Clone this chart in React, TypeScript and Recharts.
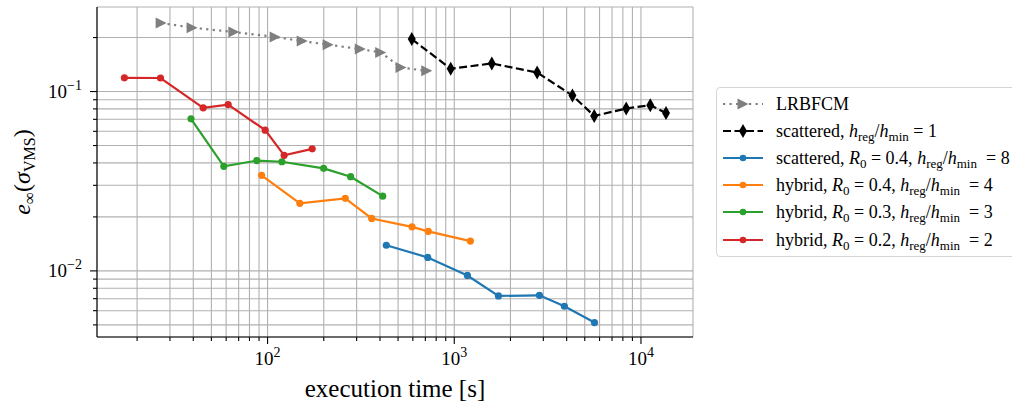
import React from "react";
import { CartesianGrid, Line, LineChart, XAxis, YAxis } from "recharts";

const SERIF = '"Liberation Serif", "DejaVu Serif", serif';

// execution time [s] / error per method
const lrbfcmTime = [26.9, 39.4, 66, 109.8, 153.3, 211, 313.7, 403.6, 518.5, 712];
const lrbfcmErr = [0.241, 0.227, 0.2147, 0.2014, 0.1912, 0.1824, 0.1725, 0.1652, 0.136, 0.1304];

const scatteredTime = [592, 957, 1589, 2780, 4295, 5618, 8337, 11220, 13620];
const scatteredErr = [0.1962, 0.1339, 0.1434, 0.1277, 0.095, 0.0731, 0.0804, 0.0839, 0.076];

const scattered8Time = [432.5, 721, 1176, 1724, 2858, 3890, 5637];
const scattered8Err = [0.0139, 0.01189, 0.00943, 0.00725, 0.00731, 0.00635, 0.00515];

const hybrid4Time = [92.9, 148.9, 260.7, 361, 594, 726, 1220];
const hybrid4Err = [0.0341, 0.0238, 0.0254, 0.0196, 0.0176, 0.0166, 0.01466];

const hybrid3Time = [38.9, 58.3, 87.6, 119.3, 199.6, 278.6, 413.7];
const hybrid3Err = [0.0704, 0.0383, 0.0412, 0.0406, 0.0373, 0.0335, 0.0261];

const hybrid2Time = [17.1, 26.7, 45.2, 61.5, 97.1, 122.7, 173.4];
const hybrid2Err = [0.1193, 0.119, 0.0811, 0.0846, 0.0609, 0.0441, 0.0479];

const xTicks = [
  20, 30, 40, 50, 60, 70, 80, 90, 100, 200, 300, 400, 500, 600, 700, 800, 900, 1000, 2000, 3000,
  4000, 5000, 6000, 7000, 8000, 9000, 10000,
];
const yTicks = [
  0.005, 0.006, 0.007, 0.008, 0.009, 0.01, 0.02, 0.03, 0.04, 0.05, 0.06, 0.07, 0.08, 0.09, 0.1, 0.2,
];

const zip = (xs: number[], ys: number[]) => xs.map((x, i) => ({ x, y: ys[i] }));

const isDecade = (v: number) => Math.abs(Math.log10(v) - Math.round(Math.log10(v))) < 1e-6;
const expOf = (v: number) => {
  const e = Math.round(Math.log10(v));
  return e < 0 ? "\u2212" + Math.abs(e) : String(e);
};

function XTick(props: any) {
  const { x, y, payload } = props;
  const major = isDecade(payload.value);
  return (
    <g>
      <line x1={x} x2={x} y1={y} y2={y + (major ? 7 : 4)} stroke="#000" strokeWidth={1.1} />
      {major && (
        <text x={x} y={y + 28} textAnchor="middle" fontFamily={SERIF} fontSize={19} fill="#000">
          10
          <tspan dy={-8} fontSize={14}>
            {expOf(payload.value)}
          </tspan>
        </text>
      )}
    </g>
  );
}

function YTick(props: any) {
  const { x, y, payload } = props;
  const major = isDecade(payload.value);
  return (
    <g>
      <line x1={x} x2={x - (major ? 7 : 4)} y1={y} y2={y} stroke="#000" strokeWidth={1.1} />
      {major && (
        <text x={x - 15} y={y + 6.5} textAnchor="end" fontFamily={SERIF} fontSize={19} fill="#000">
          10
          <tspan dy={-8} fontSize={14}>
            {expOf(payload.value)}
          </tspan>
        </text>
      )}
    </g>
  );
}

function TriangleDot(props: any) {
  const { cx, cy } = props;
  if (cx == null || cy == null) return <g />;
  const r = 5.5;
  return <path d={`M${cx + r},${cy} L${cx - r},${cy - r} L${cx - r},${cy + r} Z`} fill="#7f7f7f" />;
}

function DiamondDot(props: any) {
  const { cx, cy } = props;
  if (cx == null || cy == null) return <g />;
  return <path d={`M${cx},${cy - 7} L${cx + 4},${cy} L${cx},${cy + 7} L${cx - 4},${cy} Z`} fill="#000" />;
}

const Sub = ({ children }: { children: React.ReactNode }) => (
  <sub style={{ fontSize: 13, verticalAlign: -4, lineHeight: 0 }}>{children}</sub>
);
const H = () => (
  <>
    <i>h</i>
    <Sub>reg</Sub>/<i>h</i>
    <Sub>min</Sub>
  </>
);
const R0 = () => (
  <>
    <i>R</i>
    <Sub>0</Sub>
  </>
);

type LegendRow = { color: string; dash?: string; marker: "tri" | "diamond" | "dot"; label: React.ReactNode };

const legendRows: LegendRow[] = [
  { color: "#7f7f7f", dash: "2.2 4.3", marker: "tri", label: <>LRBFCM</> },
  { color: "#000", dash: "8 3.5", marker: "diamond", label: <>scattered, <H /> = 1</> },
  { color: "#1f77b4", marker: "dot", label: <>scattered, <R0 /> = 0.4, <H /> &nbsp;= 8</> },
  { color: "#ff7f0e", marker: "dot", label: <>hybrid, <R0 /> = 0.4, <H /> &nbsp;= 4</> },
  { color: "#2ca02c", marker: "dot", label: <>hybrid, <R0 /> = 0.3, <H /> &nbsp;= 3</> },
  { color: "#d62728", marker: "dot", label: <>hybrid, <R0 /> = 0.2, <H /> &nbsp;= 2</> },
];

function Handle({ row }: { row: LegendRow }) {
  const cx = 20;
  const cy = 10;
  return (
    <svg width={40} height={20} style={{ flex: "none" }}>
      <line x1={0} x2={40} y1={cy} y2={cy} stroke={row.color} strokeWidth={2.2} strokeDasharray={row.dash} />
      {row.marker === "tri" && <TriangleDot cx={cx} cy={cy} />}
      {row.marker === "diamond" && <DiamondDot cx={cx} cy={cy} />}
      {row.marker === "dot" && <circle cx={cx} cy={cy} r={3.3} fill={row.color} />}
    </svg>
  );
}

export default function App() {
  return (
    <div
      style={{
        position: "absolute",
        left: 0,
        top: 0,
        width: 1012,
        height: 405,
        overflow: "hidden",
        background: "#fff",
      }}
    >
      <LineChart width={1012} height={405} margin={{ top: 7, right: 319, bottom: 8, left: 7 }}>
        <CartesianGrid stroke="#b0b0b0" strokeWidth={1.1} />
        <XAxis
          dataKey="x"
          type="number"
          scale="log"
          domain={[12.2, 19000]}
          allowDataOverflow
          ticks={xTicks}
          interval={0}
          tick={<XTick />}
          tickSize={0}
          tickMargin={0}
          tickLine={false}
          axisLine={{ stroke: "#000", strokeWidth: 1.1 }}
          height={60}
          label={(p: any) => {
            const vb = p.viewBox || {};
            const cx = (vb.x ?? 97) + (vb.width ?? 596) / 2;
            return (
              <text x={cx} y={397} textAnchor="middle" fontFamily={SERIF} fontSize={25} fill="#000">
                execution time [s]
              </text>
            );
          }}
        />
        <YAxis
          dataKey="y"
          type="number"
          scale="log"
          domain={[0.00428, 0.296]}
          allowDataOverflow
          ticks={yTicks}
          interval={0}
          tick={<YTick />}
          tickSize={0}
          tickMargin={0}
          tickLine={false}
          axisLine={{ stroke: "#000", strokeWidth: 1.1 }}
          width={90}
          label={(p: any) => {
            const vb = p.viewBox || {};
            const cy = (vb.y ?? 7) + (vb.height ?? 330) / 2;
            return (
              <text
                x={30}
                y={cy}
                transform={`rotate(-90, 30, ${cy})`}
                textAnchor="middle"
                fontFamily={SERIF}
                fontSize={24}
                fill="#000"
              >
                <tspan fontStyle="italic">e</tspan>
                <tspan dy={5} fontSize={17}>
                  ∞
                </tspan>
                <tspan dy={-5}>(</tspan>
                <tspan fontStyle="italic">σ</tspan>
                <tspan dy={5} fontSize={16}>
                  VMS
                </tspan>
                <tspan dy={-5}>)</tspan>
              </text>
            );
          }}
        />
        <XAxis
          xAxisId="top"
          orientation="top"
          type="number"
          domain={[0, 1]}
          height={0}
          tick={false}
          tickLine={false}
          axisLine={{ stroke: "#000", strokeWidth: 1.1 }}
        />
        <YAxis
          yAxisId="right"
          orientation="right"
          type="number"
          domain={[0, 1]}
          width={0}
          tick={false}
          tickLine={false}
          axisLine={{ stroke: "#000", strokeWidth: 1.1 }}
        />
        <Line
          data={zip(lrbfcmTime, lrbfcmErr)}
          dataKey="y"
          stroke="#7f7f7f"
          strokeWidth={2.2}
          strokeDasharray="2.2 4.3"
          dot={<TriangleDot />}
          activeDot={false}
          isAnimationActive={false}
        />
        <Line
          data={zip(scatteredTime, scatteredErr)}
          dataKey="y"
          stroke="#000"
          strokeWidth={2.2}
          strokeDasharray="8 3.5"
          dot={<DiamondDot />}
          activeDot={false}
          isAnimationActive={false}
        />
        <Line
          data={zip(scattered8Time, scattered8Err)}
          dataKey="y"
          stroke="#1f77b4"
          strokeWidth={2.2}
          dot={{ r: 3.6, fill: "#1f77b4", stroke: "none" }}
          activeDot={false}
          isAnimationActive={false}
        />
        <Line
          data={zip(hybrid4Time, hybrid4Err)}
          dataKey="y"
          stroke="#ff7f0e"
          strokeWidth={2.2}
          dot={{ r: 3.6, fill: "#ff7f0e", stroke: "none" }}
          activeDot={false}
          isAnimationActive={false}
        />
        <Line
          data={zip(hybrid3Time, hybrid3Err)}
          dataKey="y"
          stroke="#2ca02c"
          strokeWidth={2.2}
          dot={{ r: 3.6, fill: "#2ca02c", stroke: "none" }}
          activeDot={false}
          isAnimationActive={false}
        />
        <Line
          data={zip(hybrid2Time, hybrid2Err)}
          dataKey="y"
          stroke="#d62728"
          strokeWidth={2.2}
          dot={{ r: 3.6, fill: "#d62728", stroke: "none" }}
          activeDot={false}
          isAnimationActive={false}
        />
      </LineChart>

      <div
        style={{
          position: "absolute",
          left: 716,
          top: 87,
          width: 330,
          height: 170,
          boxSizing: "border-box",
          border: "1px solid #d5d5d5",
          borderRadius: 4,
          padding: "2px 0 0 6px",
          background: "rgba(255,255,255,0.8)",
          fontFamily: SERIF,
          fontSize: 18,
          color: "#000",
        }}
      >
        {legendRows.map((row, i) => (
          <div key={i} style={{ display: "flex", alignItems: "center", height: 27.2, whiteSpace: "nowrap" }}>
            <Handle row={row} />
            <span style={{ marginLeft: 13, lineHeight: "20px" }}>{row.label}</span>
          </div>
        ))}
      </div>
    </div>
  );
}
